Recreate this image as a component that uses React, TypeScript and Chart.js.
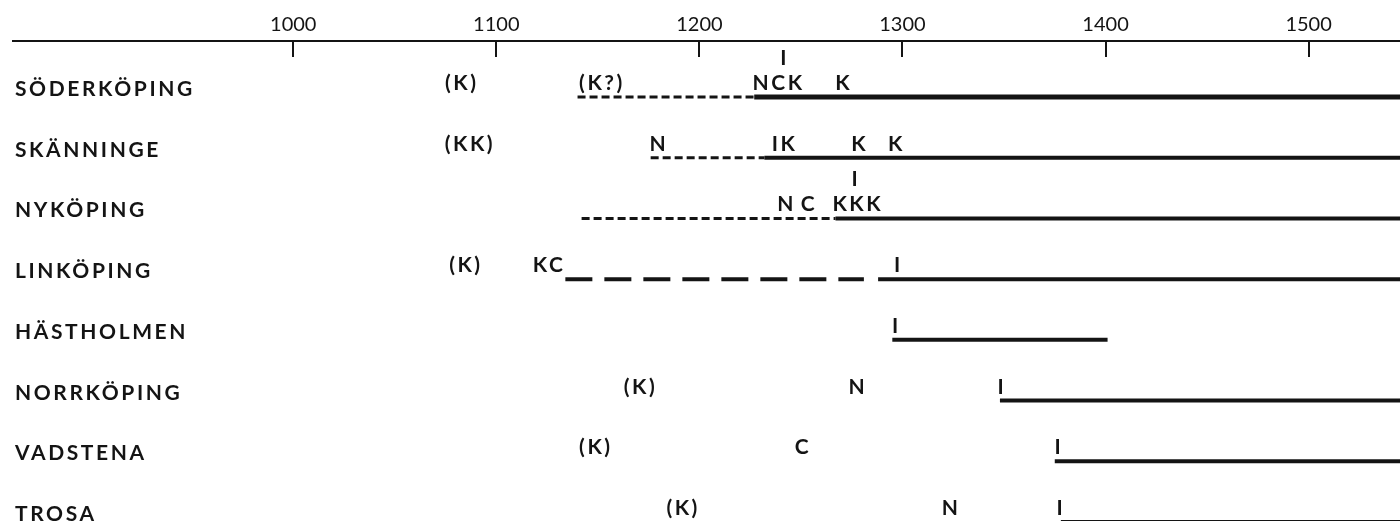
import React, { useEffect, useRef } from 'react';
import { Chart, registerables } from 'chart.js';

Chart.register(...registerables);

// Towns (rows, top to bottom)
const towns = ['SÖDERKÖPING', 'SKÄNNINGE', 'NYKÖPING', 'LINKÖPING', 'HÄSTHOLMEN', 'NORRKÖPING', 'VADSTENA', 'TROSA'];

// Year axis ticks
const yearTicks = [1000, 1100, 1200, 1300, 1400, 1500];

// Solid (certain) town periods
const solidFrom = [1227, 1232, 1267, 1288, 1295, 1348, 1375, 1378];
const solidTo = [1560, 1560, 1560, 1560, 1401, 1560, 1560, 1560];

// Dashed (uncertain) town periods
const dashFrom = [1140, 1176, 1142, 1134, null, null, null, null];
const dashTo = [1227, 1232, 1267, 1281, null, null, null, null];
const dashKind = ['short', 'short', 'short', 'long', '', '', '', ''];

// Letter notes: row, year, text, level (0 = above line, 1 = stacked higher)
const noteRows = [0, 0, 0, 0, 0, 1, 1, 1, 1, 1, 2, 2, 2, 2, 3, 3, 3, 4, 5, 5, 5, 6, 6, 6, 7, 7, 7];
const noteYears = [1083, 1152, 1239, 1242, 1271, 1087, 1180, 1242, 1279, 1297, 1243, 1254, 1278, 1277, 1085, 1126, 1298, 1297, 1171, 1278, 1349, 1149, 1251, 1377, 1192, 1324, 1378];
const noteTexts = ['(K)', '(K?)', 'NCK', 'I', 'K', '(KK)', 'N', 'IK', 'K', 'K', 'N', 'C', 'KKK', 'I', '(K)', 'KC', 'I', 'I', '(K)', 'N', 'I', '(K)', 'C', 'I', '(K)', 'N', 'I'];
const noteLevels = [0, 0, 0, 1, 0, 0, 0, 0, 0, 0, 0, 0, 0, 1, 0, 0, 0, 0, 0, 0, 0, 0, 0, 0, 0, 0, 0];

const INK = '#141414';
const FONT = 'Lato, "Noto Sans", sans-serif';

export default function App() {
  const ref = useRef<HTMLCanvasElement>(null);

  useEffect(() => {
    if (!ref.current) return;

    const datasets: any[] = [];
    towns.forEach((_, i) => {
      if (dashFrom[i] !== null && dashTo[i] !== null) {
        const long = dashKind[i] === 'long';
        datasets.push({
          data: [{ x: dashFrom[i], y: i }, { x: dashTo[i], y: i }],
          borderColor: INK,
          borderWidth: long ? 4 : 3,
          borderDash: long ? [27, 12] : [8, 4],
          borderCapStyle: 'butt',
          pointRadius: 0,
          fill: false,
        });
      }
      datasets.push({
        data: [{ x: solidFrom[i], y: i }, { x: solidTo[i], y: i }],
        borderColor: INK,
        borderWidth: i === 0 ? 5 : 4,
        borderCapStyle: 'butt',
        pointRadius: 0,
        fill: false,
      });
    });

    const textPlugin = {
      id: 'textPlugin',
      afterDraw(chart: any) {
        const { ctx, chartArea, scales } = chart;
        const xs = scales.x;
        const ys = scales.y;
        ctx.save();
        // downward tick marks
        ctx.strokeStyle = INK;
        ctx.lineWidth = 2;
        yearTicks.forEach((v) => {
          const x = Math.round(xs.getPixelForValue(v));
          ctx.beginPath();
          ctx.moveTo(x, chartArea.top);
          ctx.lineTo(x, chartArea.top + 16);
          ctx.stroke();
        });
        // row labels
        ctx.fillStyle = INK;
        ctx.textBaseline = 'alphabetic';
        ctx.textAlign = 'left';
        ctx.font = `bold 21px ${FONT}`;
        (ctx as any).letterSpacing = '2.6px';
        towns.forEach((t, i) => {
          ctx.fillText(t, 15, ys.getPixelForValue(i) - 1);
        });
        // notes
        ctx.textAlign = 'center';
        (ctx as any).letterSpacing = '2.5px';
        noteTexts.forEach((t, k) => {
          const x = xs.getPixelForValue(noteYears[k]);
          const y = ys.getPixelForValue(noteRows[k]) - (noteLevels[k] === 1 ? 32 : 7);
          ctx.fillText(t, x, y);
        });
        ctx.restore();
      },
    };

    const chart = new Chart(ref.current, {
      type: 'line',
      data: { datasets },
      options: {
        animation: false,
        responsive: false,
        devicePixelRatio: 1,
        layout: { padding: { left: 13, right: 0, top: 0, bottom: 0 } },
        plugins: { legend: { display: false }, tooltip: { enabled: false } },
        scales: {
          x: {
            type: 'linear',
            position: 'top',
            min: 862,
            max: 1545,
            afterBuildTicks: (s: any) => {
              s.ticks = yearTicks.map((v) => ({ value: v }));
            },
            afterFit: (s: any) => {
              s.height = 41;
            },
            grid: { display: false, drawTicks: false },
            border: { display: true, color: INK, width: 2 },
            ticks: {
              padding: 4,
              color: INK,
              maxRotation: 0,
              autoSkip: false,
              font: { family: FONT, size: 20 },
              callback: (v: any) => String(v),
            },
          },
          y: {
            type: 'linear',
            display: false,
            reverse: true,
            min: -0.9224,
            max: 6.984,
          },
        },
      },
      plugins: [textPlugin],
    });

    return () => chart.destroy();
  }, []);

  return (
    <div style={{ position: 'absolute', left: 0, top: 0, width: 1400, height: 521, background: '#fff' }}>
      <canvas ref={ref} width={1400} height={521} />
    </div>
  );
}
